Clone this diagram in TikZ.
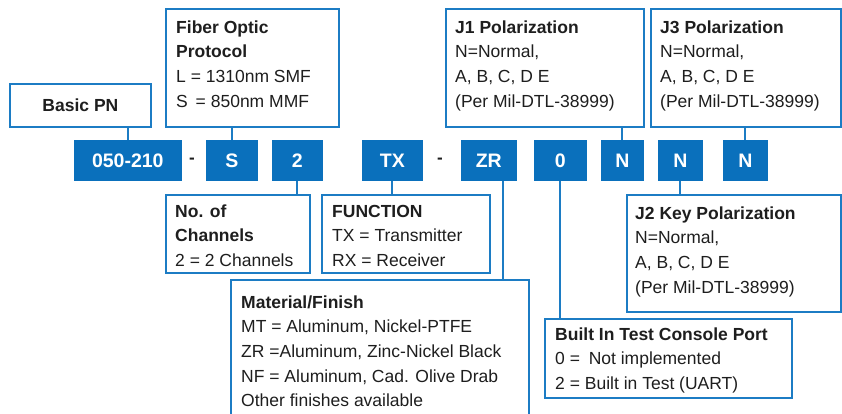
\documentclass[tikz,border=0pt]{standalone}
\usepackage{fontspec}
\setmainfont{Liberation Sans}
\definecolor{bblue}{HTML}{1C7CC4}
\definecolor{fblue}{HTML}{0A70BC}
\definecolor{tgray}{HTML}{1E1E1E}
\newcommand\fstrut{\rule{0pt}{14pt}}
\tikzset{
  box/.style={draw=bblue, line width=1.8pt, inner sep=0pt, anchor=north west, fill=white},
  fbox/.style={fill=fblue, draw=fblue, line width=0.6pt, inner sep=0pt, anchor=north west,
    text=white, font=\fontsize{19.5}{22}\selectfont\bfseries},
  txt/.style={anchor=north west, inner sep=0pt, align=left, text=tgray,
    font=\fontsize{17.5}{24.6}\selectfont},
  dsh/.style={text=tgray, inner sep=0pt, font=\fontsize{17}{20}\selectfont\bfseries},
  conn/.style={draw=bblue, line width=1.8pt}
}
\begin{document}
\begin{tikzpicture}[x=1pt,y=-1pt]
\useasboundingbox (0,0) rectangle (842,413);
\clip (0,0) rectangle (842,413);
% outlined boxes
\node[box, minimum width=141, minimum height=43, text=tgray, font=\fontsize{17.5}{20}\selectfont\bfseries] (basic) at (9,83) {Basic PN};
\node[box, minimum width=173, minimum height=118] (fiber) at (165,8) {};
\node[box, minimum width=198, minimum height=118] (j1) at (445,8) {};
\node[box, minimum width=190, minimum height=118] (j3) at (650,8) {};
\node[box, minimum width=144, minimum height=78] (chan) at (165,194) {};
\node[box, minimum width=168, minimum height=78] (func) at (321,194) {};
\node[box, minimum width=298, minimum height=150] (mat) at (230,279) {};
\node[box, minimum width=214, minimum height=117] (j2) at (626,194) {};
\node[box, minimum width=247, minimum height=79] (bit) at (544,318) {};
% filled code boxes
\node[fbox, minimum width=107, minimum height=40] (pn) at (74,140) {050-210};
\node[fbox, minimum width=51, minimum height=40] (s) at (206,140) {S};
\node[fbox, minimum width=50, minimum height=40] (two) at (272,140) {2};
\node[fbox, minimum width=60, minimum height=40] (tx) at (362,140) {TX};
\node[fbox, minimum width=55, minimum height=40] (zr) at (461,140) {ZR};
\node[fbox, minimum width=52, minimum height=40] (zero) at (534,140) {0};
\node[fbox, minimum width=42, minimum height=40] (n1) at (601,140) {N};
\node[fbox, minimum width=44, minimum height=40] (n2) at (658,140) {N};
\node[fbox, minimum width=44, minimum height=40] (n3) at (723,140) {N};
\node[dsh] (d1) at (192,161) {-};
\node[dsh] (d2) at (440,161) {-};
% texts
\node[txt] (tfiber) at (176,19) {\fstrut\textbf{Fiber Optic}\\\textbf{Protocol}\\L = 1310nm SMF\\S\hspace{0.45em}= 850nm MMF};
\node[txt] (tj1) at (455,19) {\fstrut\textbf{J1 Polarization}\\N=Normal,\\A, B, C, D E\\(Per Mil-DTL-38999)};
\node[txt] (tj3) at (660,19) {\fstrut\textbf{J3 Polarization}\\N=Normal,\\A, B, C, D E\\(Per Mil-DTL-38999)};
\node[txt] (tchan) at (175,203) {\fstrut\textbf{No. of}\\\textbf{Channels}\\2 = 2 Channels};
\node[txt] (tfunc) at (332,203) {\fstrut\textbf{FUNCTION}\\TX = Transmitter\\RX = Receiver};
\node[txt] (tmat) at (241,294) {\fstrut\textbf{Material/Finish}\\MT = Aluminum, Nickel-PTFE\\ZR =Aluminum, Zinc-Nickel Black\\NF = Aluminum, Cad. Olive Drab\\Other finishes available};
\node[txt] (tj2) at (635,205) {\fstrut\textbf{J2 Key Polarization}\\N=Normal,\\A, B, C, D E\\(Per Mil-DTL-38999)};
\node[txt] (tbit) at (555,326) {\fstrut\textbf{Built In Test Console Port}\\0 =\hspace{0.5em}Not implemented\\2 = Built in Test (UART)};
% connectors
\draw[conn] (pn.north) -- (pn.north |- basic.south);
\draw[conn] (s.north) -- (s.north |- fiber.south);
\draw[conn] (two.south) -- (two.south |- chan.north);
\draw[conn] (tx.south) -- (tx.south |- func.north);
\draw[conn] ([xshift=14.5pt]zr.south) -- ([xshift=14.5pt]zr.south |- mat.north);
\draw[conn] (zero.south) -- (zero.south |- bit.north);
\draw[conn] (n1.north) -- (n1.north |- j1.south);
\draw[conn] (n2.south) -- (n2.south |- j2.north);
\draw[conn] (n3.north) -- (n3.north |- j3.south);
\end{tikzpicture}
\end{document}
